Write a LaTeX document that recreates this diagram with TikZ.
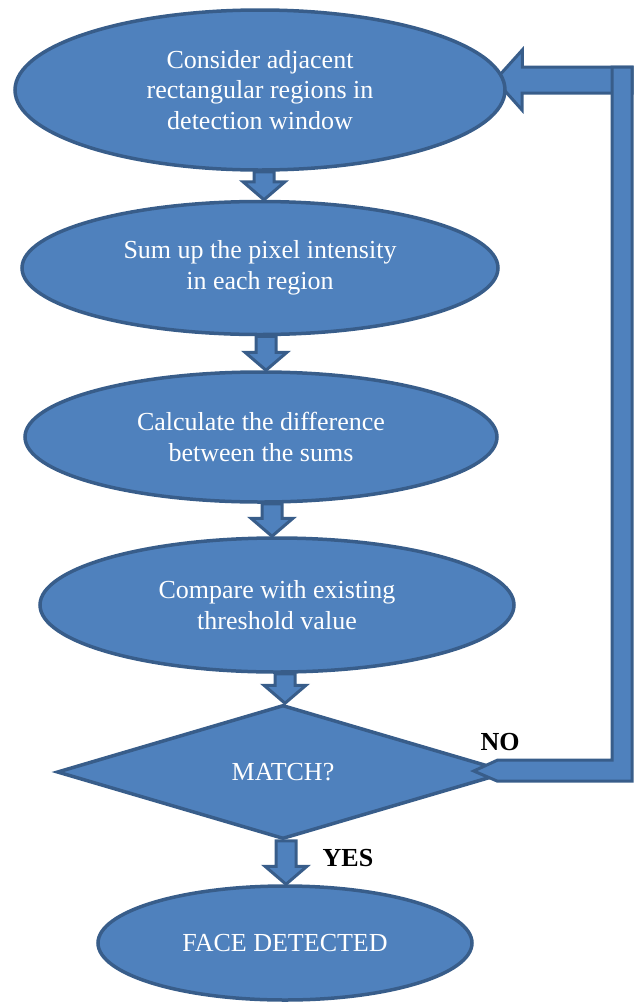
\documentclass[tikz,border=0pt]{standalone}
\usepackage{fontspec}
\setmainfont{Liberation Serif}
\usetikzlibrary{shapes.geometric,calc,backgrounds}
\definecolor{boxfill}{HTML}{4F81BD}
\definecolor{boxline}{HTML}{385D8A}
\tikzset{
 flow/.style={draw=boxline, fill=boxfill, line width=3.5pt, text=white,
   font=\fontsize{26}{30.5}\selectfont, align=center, inner sep=0pt},
 oval/.style={flow, ellipse},
 blk/.style={draw=boxline, fill=boxfill, line width=3pt, line join=miter},
 lbl/.style={font=\fontsize{26}{30}\selectfont\bfseries, text=black, inner sep=0pt}
}
\newcommand\barrow[2]{\path[blk] let \p1=(#1), \p2=(#2) in
  (\x1-10,\y1) -- (\x1+10,\y1) -- (\x1+10,\y2+18) -- (\x1+21,\y2+18) --
  (\x1,\y2) -- (\x1-21,\y2+18) -- (\x1-10,\y2+18) -- cycle;}
\begin{document}
\begin{tikzpicture}[x=1pt,y=-1pt]
\useasboundingbox (0,0) rectangle (638,1002);

\node[oval, minimum width=490, minimum height=160] (e1) at (260,90)
  {Consider adjacent\\rectangular regions in\\detection window};
\node[oval, minimum width=476, minimum height=133] (e2) at (260,268)
  {Sum up the pixel intensity\\in each region};
\node[oval, minimum width=472, minimum height=130] (e3) at (261,437)
  {Calculate the difference\\between the sums};
\node[oval, minimum width=474, minimum height=134] (e4) at (277,605)
  {Compare with existing\\threshold value};
\node[flow, diamond, minimum width=452, minimum height=134] (d) at (283,772)
  {MATCH?};
\node[oval, minimum width=374, minimum height=114] (e6) at (285,943)
  {FACE DETECTED};

\barrow{$(e1.south)+(4,0)$}{e2.north}
\barrow{$(e2.south)+(6,0)$}{e3.north}
\barrow{$(e3.south)+(11,0)$}{e4.north}
\barrow{$(e4.south)+(8,0)$}{d.north}
\barrow{$(d.south)+(3,0)$}{e6.north}

% feedback loop
\coordinate (fbtip) at ($(e1.east)+(-11.5,-10)$);
\coordinate (fbstart) at ($(d.east)+(-37,-1)$);
\begin{pgfonlayer}{background}
\path[blk] (fbtip) -- ++(27,-30) -- ++(0,17) -- (632,67) -- (632,93)
  -- (522,93) -- ++(0,17) -- cycle;
\end{pgfonlayer}
\path[blk] (fbstart) -- ++(24,-11) -- (612,760) -- (612,67) -- (632,67)
  -- (632,781) -- (497,781) -- cycle;

\node[lbl] (no) at (500,742) {NO};
\node[lbl] (yes) at (348,858) {YES};
\end{tikzpicture}
\end{document}
